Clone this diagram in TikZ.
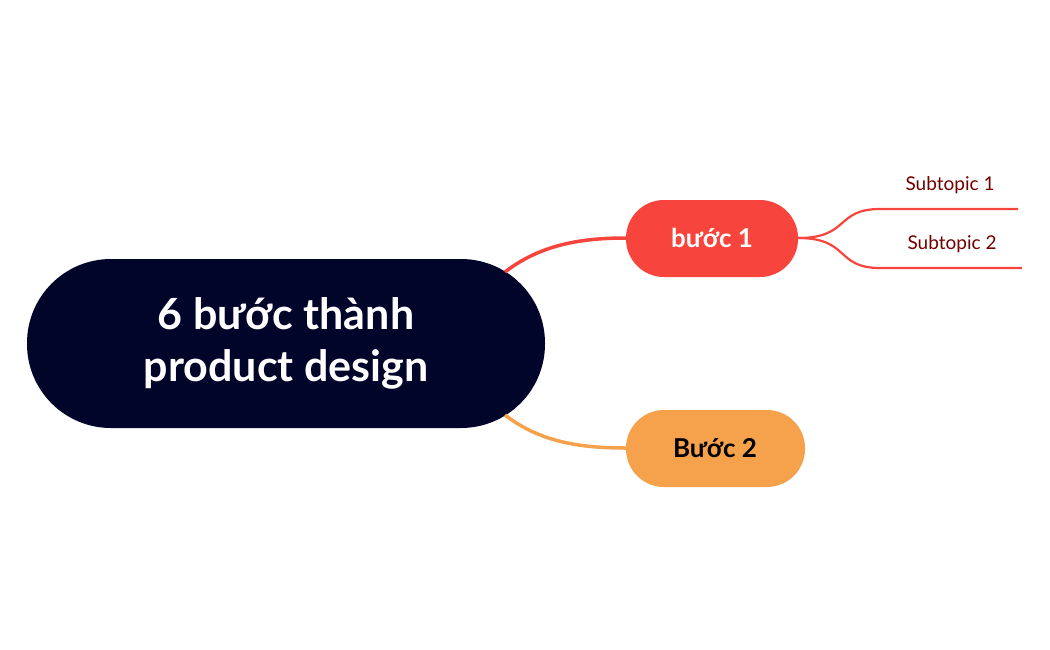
\documentclass[tikz,border=0pt]{standalone}
\usepackage{fontspec}
\setmainfont{Lato}
\begin{document}
\begin{tikzpicture}[x=1pt,y=-1pt,
  pill/.style={rounded corners=38pt,font=\bfseries\fontsize{25}{30}\selectfont,inner sep=0},
  sub/.style={text=red!45!black,font=\fontsize{19}{22}\selectfont}]
\useasboundingbox (0,0) rectangle (1050,649);
\definecolor{navy}{HTML}{02052A}
\definecolor{redc}{HTML}{F7443C}
\definecolor{orc}{HTML}{F6A24D}
\fill[navy,rounded corners=84pt] (27,259) rectangle (545,428);
\node[text=white,font=\bfseries\fontsize{43}{52}\selectfont,align=center] (c) at (286,343) {6 bước thành\\product design};
\fill[redc,rounded corners=38pt] (626,200) rectangle (798,277);
\node[text=white,font=\bfseries\fontsize{26}{30}\selectfont] (b1) at (712,238) {bước 1};
\fill[orc,rounded corners=38pt] (626,410) rectangle (805,487);
\node[text=black,font=\bfseries\fontsize{26}{30}\selectfont] (b2) at (715,448) {Bước 2};
\coordinate (c1) at (505,272);
\coordinate (c2) at (505,415);
\coordinate (b1l) at (626,238);
\coordinate (b1r) at (798,238);
\coordinate (b2l) at (626,448);
\draw[redc,line width=3.5pt] (c1) .. controls (540,245) and (580,238) .. (b1l);
\draw[orc,line width=3.5pt] (c2) .. controls (540,442) and (580,448) .. (b2l);
\coordinate (s1) at (1018,209);
\coordinate (s2) at (1022,268);
\draw[redc,line width=2.2pt] (b1r) .. controls (850,238) and (835,209) .. (880,209) -- (s1);
\draw[redc,line width=2.2pt] (b1r) .. controls (850,238) and (835,268) .. (880,268) -- (s2);
\node[sub] (t1) at (950,185) {Subtopic 1};
\node[sub] (t2) at (952,244) {Subtopic 2};
\end{tikzpicture}
\end{document}
